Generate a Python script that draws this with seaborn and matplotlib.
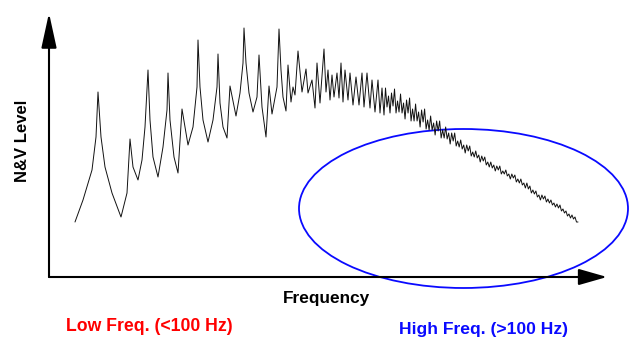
import numpy as np
import pandas as pd
import seaborn as sns
import matplotlib.pyplot as plt
from matplotlib.patches import Ellipse

# N&V level spectrum (arbitrary units)
# low-frequency part: separate resonance peaks
low_freq = [26, 34, 43, 47, 49, 52, 56, 63, 72, 78, 81, 84, 89,
            93, 96, 99, 101, 104, 109, 114, 118, 119, 121, 125, 129,
            133, 139, 144, 148, 149, 151, 154, 159, 164, 168, 169, 171, 174, 178,
            181, 187, 191, 194, 195, 197, 200, 204, 208, 210, 213, 217,
            220, 223, 228, 230, 232, 234, 237]
low_level = [55, 77, 107, 140, 185, 140, 110, 84, 60, 84, 138, 110, 97,
             117, 150, 207, 157, 120, 100, 130, 167, 204, 157, 120, 104,
             168, 132, 150, 190, 237, 190, 157, 135, 157, 190, 223, 174, 150, 139,
             191, 161, 184, 214, 249, 214, 184, 165, 180, 222, 170, 140,
             191, 163, 190, 248, 207, 180, 166]

# mid part: modes start to overlap
mid_freq = [239, 242, 244, 246, 249, 253, 257, 259, 263, 266, 268, 271, 275, 277,
            279, 281, 283, 285, 288, 290, 292, 294, 296, 299, 301, 304, 307, 310,
            313, 315, 318, 321, 323, 326, 329, 331, 333, 335]
mid_level = [212, 175, 190, 182, 226, 185, 208, 184, 197, 169, 214, 174, 228, 185,
             207, 177, 202, 180, 204, 179, 214, 175, 207, 177, 204, 172, 200, 172,
             204, 170, 204, 169, 197, 165, 197, 164, 189, 162]

# high-frequency part: dense, noisy roll-off on evenly spaced bins
high_freq = np.linspace(336.5, 529, 129)
high_level = [189, 170, 181, 164, 184, 171, 188, 164, 176, 165,
              183, 164, 174, 158, 177, 164, 179, 156, 168, 156,
              173, 156, 165, 150, 167, 155, 168, 148, 157, 147,
              161, 147, 154, 142, 156, 146, 156, 139, 147, 139,
              150, 138, 144, 133, 144, 136, 144, 131, 136, 130,
              137, 128, 132, 124, 132, 126, 131, 121, 125, 120,
              126, 119, 122, 115, 121, 116, 120, 112, 115, 110,
              115, 109, 112, 106, 111, 107, 111, 103, 106, 103,
              107, 101, 103, 98, 103, 99, 102, 95, 98, 94,
              98, 92, 94, 89, 94, 88, 91, 84, 87, 83,
              86, 80, 82, 77, 82, 78, 81, 75, 78, 74,
              77, 72, 74, 70, 73, 69, 72, 66, 68, 64,
              66, 61, 63, 59, 62, 58, 60, 55, 55]

freq = list(low_freq) + list(mid_freq) + list(high_freq)
level = low_level + mid_level + high_level
df = pd.DataFrame({'freq': freq, 'level': level})

sns.set_style('white')
plt.rcParams['font.family'] = ['Liberation Sans', 'DejaVu Sans']

fig = plt.figure(figsize=(6.4, 3.51), dpi=100)
ax = fig.add_axes([49 / 640, 74 / 351, 558 / 640, 264 / 351])

sns.lineplot(data=df, x='freq', y='level', sort=False, estimator=None,
             color='#111111', lw=0.7, ax=ax)

# high frequency region marker
ax.add_patch(Ellipse((414.5, 68.5), 329, 159, fill=False, ec='#0a0aff', lw=1.3,
                     clip_on=False))

ax.set_xlim(0, 558)
ax.set_ylim(0, 264)
ax.set_xticks([])
ax.set_yticks([])
ax.set_xlabel('')
ax.set_ylabel('')
sns.despine(ax=ax, left=True, bottom=True)

# axis arrows
ax.annotate('', xy=(1, 0), xytext=(0, 0), xycoords='axes fraction',
            arrowprops=dict(arrowstyle='-|>,head_length=1.75,head_width=0.5',
                            color='black', lw=1.5, shrinkA=0, shrinkB=0))
ax.annotate('', xy=(0, 1), xytext=(0, 0), xycoords='axes fraction',
            arrowprops=dict(arrowstyle='-|>,head_length=2.15,head_width=0.47',
                            color='black', lw=1.5, shrinkA=0, shrinkB=0))

fig.text(0.035, 0.598, 'N&V Level', rotation=90, ha='center', va='center',
         fontsize=12, fontweight='bold', color='black')
fig.text(326.5 / 640, 1 - 302.7 / 351, 'Frequency', ha='center', va='baseline',
         fontsize=12.4, fontweight='bold', color='black')
fig.text(149.5 / 640, 1 - 330.7 / 351, 'Low Freq. (<100 Hz)', ha='center',
         va='baseline', fontsize=12.7, fontweight='bold', color='#ff0000')
fig.text(483.5 / 640, 1 - 334 / 351, 'High Freq. (>100 Hz)', ha='center',
         va='baseline', fontsize=12.6, fontweight='bold', color='#0a0aff')

fig.savefig('out.png', dpi=100)
